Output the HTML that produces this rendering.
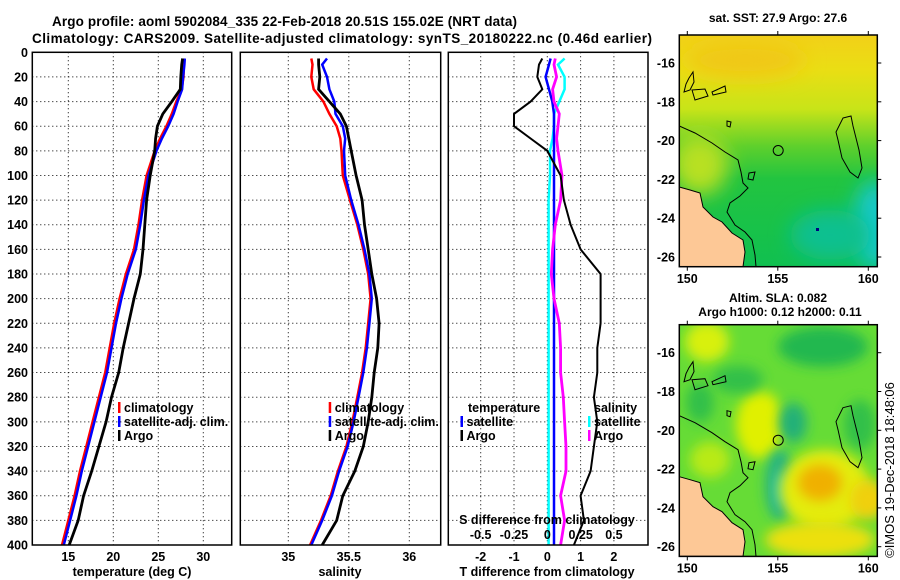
<!DOCTYPE html>
<html><head><meta charset="utf-8"><style>
html,body{margin:0;padding:0;background:#fff}
svg{display:block}
text{font-family:"Liberation Sans",sans-serif;font-weight:bold;fill:#000}
</style></head><body>
<svg id="fig" width="900" height="580" viewBox="0 0 900 580" xmlns="http://www.w3.org/2000/svg">
<defs>
<filter id="blur6" x="-50%" y="-50%" width="200%" height="200%"><feGaussianBlur stdDeviation="6"/></filter>
<filter id="blur10" x="-50%" y="-50%" width="200%" height="200%"><feGaussianBlur stdDeviation="10"/></filter>
<clipPath id="mapclip"><rect x="679.3" y="35" width="198" height="231.7"/></clipPath>
<linearGradient id="sstgrad" x1="0" y1="0" x2="0" y2="1">
<stop offset="0" stop-color="#f2d018"/><stop offset="0.15" stop-color="#eade14"/><stop offset="0.32" stop-color="#c8e418"/><stop offset="0.48" stop-color="#5ed02c"/><stop offset="0.62" stop-color="#22c440"/><stop offset="1" stop-color="#10c050"/>
</linearGradient>
<g id="coast">
<path d="M679.3,187 L690,190 L700,193 L703,207 L713,217 L722,222 L732,233 L743,240 L745,252 L743,266.7 L679.3,266.7 Z" fill="#fdc896" stroke="#000" stroke-width="1"/>
<path d="M679.3,126 L695,133 L712,143 L725,152 L738,160 L741,172 L743,183 L748,188 L740,196 L730,203 L727,212 L735,225 L745,232 L752,240 L755,255 L756,266.7" fill="none" stroke="#000" stroke-width="1"/>
<path d="M843,118 L851,116 L853,126 L859,150 L862,168 L858,178 L850,172 L842,158 L838,140 L836,132 Z" fill="none" stroke="#000" stroke-width="1"/>
<path d="M689,78 L693,72 L694,82 L690,90 L684,92 L686,84 Z M692,90 L705,89 L708,96 L695,100 Z M712,92 L725,86 L726,92 L713,95 Z M727,121 L731,122 L730,127 L727,126 Z M749,173 L755,172 L753,180 L748,179 Z" fill="none" stroke="#000" stroke-width="1"/>
</g>
</defs>
<rect x="0" y="0" width="900" height="580" fill="#fff"/>
<text x="52" y="26" font-size="13.5" textLength="465">Argo profile: aoml 5902084_335 22-Feb-2018 20.51S 155.02E (NRT data)</text>
<text x="32" y="43" font-size="13.5" textLength="620">Climatology: CARS2009. Satellite-adjusted climatology: synTS_20180222.nc (0.46d earlier)</text>
<g id="panels"></g>
<g>
<text x="778" y="22" font-size="12" text-anchor="middle">sat. SST: 27.9 Argo: 27.6</text>
<g clip-path="url(#mapclip)">
<rect x="679.3" y="35" width="198" height="231.7" fill="url(#sstgrad)"/>
<ellipse cx="700" cy="165" rx="28" ry="30" fill="#b8e020" filter="url(#blur10)"/>
<ellipse cx="745" cy="60" rx="60" ry="18" fill="#f0c818" filter="url(#blur10)"/>
<ellipse cx="875" cy="225" rx="22" ry="45" fill="#18c8c8" filter="url(#blur10)"/>
<ellipse cx="830" cy="235" rx="40" ry="25" fill="#10c090" filter="url(#blur10)"/>
<rect x="816" y="228" width="3" height="3" fill="#000080"/>
<use href="#coast"/>
</g>
<rect x="679.3" y="35" width="198" height="231.7" fill="none" stroke="#000" stroke-width="1.5"/>
</g>
<g>
<text x="778" y="302" font-size="12" text-anchor="middle">Altim. SLA: 0.082</text>
<text x="780" y="316" font-size="12" text-anchor="middle">Argo h1000: 0.12 h2000: 0.11</text>
<g transform="translate(0,289.7)">
<g clip-path="url(#mapclip)">
<rect x="679.3" y="35" width="198" height="231.7" fill="#66dc36"/>
<ellipse cx="707" cy="52" rx="22" ry="20" fill="#d8f010" filter="url(#blur6)"/>
<ellipse cx="760" cy="135" rx="24" ry="34" fill="#e0f000" filter="url(#blur6)"/>
<ellipse cx="710" cy="170" rx="20" ry="18" fill="#b8ea18" filter="url(#blur6)"/>
<ellipse cx="823" cy="57" rx="45" ry="20" fill="#22b850" filter="url(#blur6)"/>
<ellipse cx="738" cy="90" rx="25" ry="14" fill="#30c048" filter="url(#blur6)"/>
<ellipse cx="700" cy="113" rx="14" ry="20" fill="#30c048" filter="url(#blur6)"/>
<ellipse cx="860" cy="135" rx="16" ry="25" fill="#30c048" filter="url(#blur6)"/>
<ellipse cx="793" cy="133" rx="14" ry="20" fill="#20b078" filter="url(#blur6)"/>
<ellipse cx="780" cy="195" rx="15" ry="36" fill="#28b480" filter="url(#blur6)"/>
<ellipse cx="782" cy="200" rx="7" ry="18" fill="#40d0b0" filter="url(#blur6)"/>
<ellipse cx="825" cy="200" rx="45" ry="40" fill="#e4ec10" filter="url(#blur6)"/>
<ellipse cx="820" cy="193" rx="22" ry="18" fill="#f0b000" filter="url(#blur6)"/>
<ellipse cx="868" cy="210" rx="18" ry="20" fill="#f0d010" filter="url(#blur6)"/>
<ellipse cx="820" cy="250" rx="55" ry="18" fill="#ece010" filter="url(#blur6)"/>
<use href="#coast"/>
</g>
<rect x="679.3" y="35" width="198" height="231.7" fill="none" stroke="#000" stroke-width="1.5"/>
</g>
</g>
<g id="maplabels"></g>
<text transform="translate(894,470) rotate(-90)" font-size="13" text-anchor="middle" style="font-weight:normal">©IMOS 19-Dec-2018 18:48:06</text>
</svg>
<script>
const depths   = [5,10,20,30,40,50,60,70,80,100,120,140,160,180,200,220,240,260,280,300,320,340,360,380,400];
const tempClim = [27.85,27.85,27.8,27.6,27.0,26.5,25.9,25.2,24.6,23.7,23.2,22.8,22.3,21.4,20.7,20.1,19.6,19.1,18.4,17.7,17.0,16.3,15.7,15.0,14.3];
const tempSat  = [27.95,27.9,27.75,27.65,27.15,26.7,26.1,25.4,24.8,23.9,23.4,23.0,22.5,21.6,20.9,20.3,19.8,19.3,18.6,17.9,17.2,16.5,15.9,15.2,14.5];
const tempArgo = [27.7,27.6,27.5,27.45,26.5,25.5,24.9,24.7,24.6,24.1,23.7,23.5,23.3,23.0,22.3,21.7,21.1,20.6,19.8,19.2,18.4,17.6,16.7,16.1,15.1];
const salClim  = [35.19,35.20,35.19,35.21,35.29,35.34,35.40,35.43,35.44,35.45,35.51,35.57,35.62,35.66,35.68,35.66,35.64,35.61,35.57,35.53,35.48,35.41,35.35,35.27,35.18];
const salSat   = [35.32,35.28,35.32,35.34,35.38,35.39,35.45,35.47,35.46,35.47,35.52,35.58,35.63,35.67,35.69,35.67,35.65,35.62,35.58,35.54,35.49,35.42,35.36,35.28,35.19];
const salArgo  = [35.25,35.25,35.26,35.25,35.34,35.43,35.48,35.50,35.52,35.56,35.61,35.63,35.66,35.69,35.73,35.75,35.74,35.71,35.69,35.66,35.62,35.55,35.45,35.40,35.28];
const depthTicks = [0,20,40,60,80,100,120,140,160,180,200,220,240,260,280,300,320,340,360,380,400];
const tempTicks = [15,20,25,30];
const salTicks = [35,35.5,36];
const tdiffTicks = [-2,-1,0,1,2];
const sdiffTicks = [-0.5,-0.25,0,0.25,0.5];
const sdiffLabels = ["-0.5","-0.25","0","0.25","0.5"];

const NS='http://www.w3.org/2000/svg';
const root=document.getElementById('panels');
function mk(tag,attrs,parent){const e=document.createElementNS(NS,tag);for(const k in attrs)e.setAttribute(k,attrs[k]);(parent||root).appendChild(e);return e;}
const Y0=52.3,Y1=545;
const yD=d=>Y0+(d/400)*(Y1-Y0);
const xT=t=>68.3+(t-15)*9;
const xS=s=>288.3+(s-35)*121;
const xTD=d=>547.3+d*33.3;
const xSD=d=>547.3+d*133.3;

function frame(x0,x1,name){
  const r=mk('rect',{x:x0,y:Y0,width:x1-x0,height:Y1-Y0,fill:'none',stroke:'#000','stroke-width':1.5});
  
  
}
function grid(x0,x1,xs){
  depthTicks.forEach(d=>{if(d>0&&d<400){const l=mk('line',{x1:x0,x2:x1,y1:yD(d),y2:yD(d),stroke:'#000','stroke-width':1,'stroke-dasharray':'1,3'});
    
    }});
  xs.forEach(x=>{const l=mk('line',{x1:x,x2:x,y1:Y0,y2:Y1,stroke:'#000','stroke-width':1,'stroke-dasharray':'1,3'});
    
    });
}
function line(xs,color,w,name){
  const pts=xs.map((x,i)=>x.toFixed(1)+','+yD(depths[i]).toFixed(1)).join(' ');
  const p=mk('polyline',{points:pts,fill:'none',stroke:color,'stroke-width':w,'stroke-linejoin':'miter'});
  
  
}
function txt(x,y,s,anchor,name,size){
  const t=mk('text',{x:x,y:y,'font-size':size||12.5,'text-anchor':anchor||'start'});t.textContent=s;
  
  
  return t;
}
function legend(x,y,color,label,name){
  const m=mk('rect',{x:x,y:y-10,width:2.5,height:11,fill:color});
  
  
  txt(x+6,y,label,'start',name);
}

grid(32.3,231.7,tempTicks.map(xT));
line(tempClim.map(xT),'#ff0000',2.5,'temp-climatology-line');
line(tempSat.map(xT),'#0000ff',2.5,'temp-satellite-line');
line(tempArgo.map(xT),'#000',2.8,'temp-argo-line');
frame(32.3,231.7,'temperature-panel');
depthTicks.forEach(d=>txt(28,yD(d)+4.5,String(d),'end','depth-tick-label'));
tempTicks.forEach(t=>txt(xT(t),561,String(t),'middle','temp-tick-label'));
txt(132,576,'temperature (deg C)','middle','temp-axis-title');
legend(118,412,'#ff0000','climatology','legend-climatology');
legend(118,426,'#0000ff','satellite-adj. clim.','legend-satellite-adj');
legend(118,440,'#000','Argo','legend-argo');

grid(240.3,440.7,salTicks.map(xS));
line(salClim.map(xS),'#ff0000',2.5,'sal-climatology-line');
line(salSat.map(xS),'#0000ff',2.5,'sal-satellite-line');
line(salArgo.map(xS),'#000',2.8,'sal-argo-line');
frame(240.3,440.7,'salinity-panel');
salTicks.forEach(s=>txt(xS(s),561,String(s),'middle','sal-tick-label'));
txt(340,576,'salinity','middle','sal-axis-title');
legend(328.7,412,'#ff0000','climatology','legend-sal-climatology');
legend(328.7,426,'#0000ff','satellite-adj. clim.','legend-sal-satellite-adj');
legend(328.7,440,'#000','Argo','legend-sal-argo');

grid(448.3,648,tdiffTicks.map(xTD));
const tdSat=tempSat.map((v,i)=>v-tempClim[i]);
const tdArgo=tempArgo.map((v,i)=>v-tempClim[i]);
const sdSat=salSat.map((v,i)=>v-salClim[i]);
const sdArgo=salArgo.map((v,i)=>v-salClim[i]);
line(sdSat.map(xSD),'#00ffff',2.5,'sdiff-satellite-line');
line(tdSat.map(xTD),'#0000ff',2.5,'tdiff-satellite-line');
line(sdArgo.map(xSD),'#ff00ff',2.8,'sdiff-argo-line');
line(tdArgo.map(xTD),'#000',2,'tdiff-argo-line');
frame(448.3,648,'difference-panel');
tdiffTicks.forEach(d=>txt(xTD(d),561,String(d),'middle','tdiff-tick-label'));
txt(547,576,'T difference from climatology','middle','tdiff-axis-title');
txt(547,524,'S difference from climatology','middle','sdiff-axis-title');
sdiffTicks.forEach((d,i)=>txt(xSD(d),539,sdiffLabels[i],'middle','sdiff-tick-label'));
txt(468,412,'temperature','start','legend-temperature-heading');
legend(460.5,426,'#0000ff','satellite','legend-tdiff-satellite');
legend(460.5,440,'#000','Argo','legend-tdiff-argo');
txt(594,412,'salinity','start','legend-salinity-heading');
legend(588,426,'#00ffff','satellite','legend-sdiff-satellite');
legend(588,440,'#ff00ff','Argo','legend-sdiff-argo');

const mapLons=[150,155,160];
const mapLats=[-16,-18,-20,-22,-24,-26];
const ml=document.getElementById('maplabels');
[0,289.7].forEach(off=>{
  mapLons.forEach(l=>{const x=687.3+(l-150)*18.1;
    const t=mk('text',{x:x,y:283+off,'font-size':12.5,'text-anchor':'middle'},ml);t.textContent=String(l);
    
    
    mk('line',{x1:x,x2:x,y1:35+off,y2:31+off,stroke:'#000'},ml);
    mk('line',{x1:x,x2:x,y1:266.7+off,y2:270.7+off,stroke:'#000'},ml);});
  mapLats.forEach(l=>{const y=63+(-16-l)*19.4+off;
    const t=mk('text',{x:675,y:y+4.5,'font-size':12.5,'text-anchor':'end'},ml);t.textContent=String(l);
    
    
    mk('line',{x1:877.3,x2:881.3,y1:y,y2:y,stroke:'#000'},ml);});
  const c=mk('circle',{cx:778.2,cy:150.5+off,r:5,fill:'none',stroke:'#000','stroke-width':1},ml);
  
  
});
</script>
</body></html>
